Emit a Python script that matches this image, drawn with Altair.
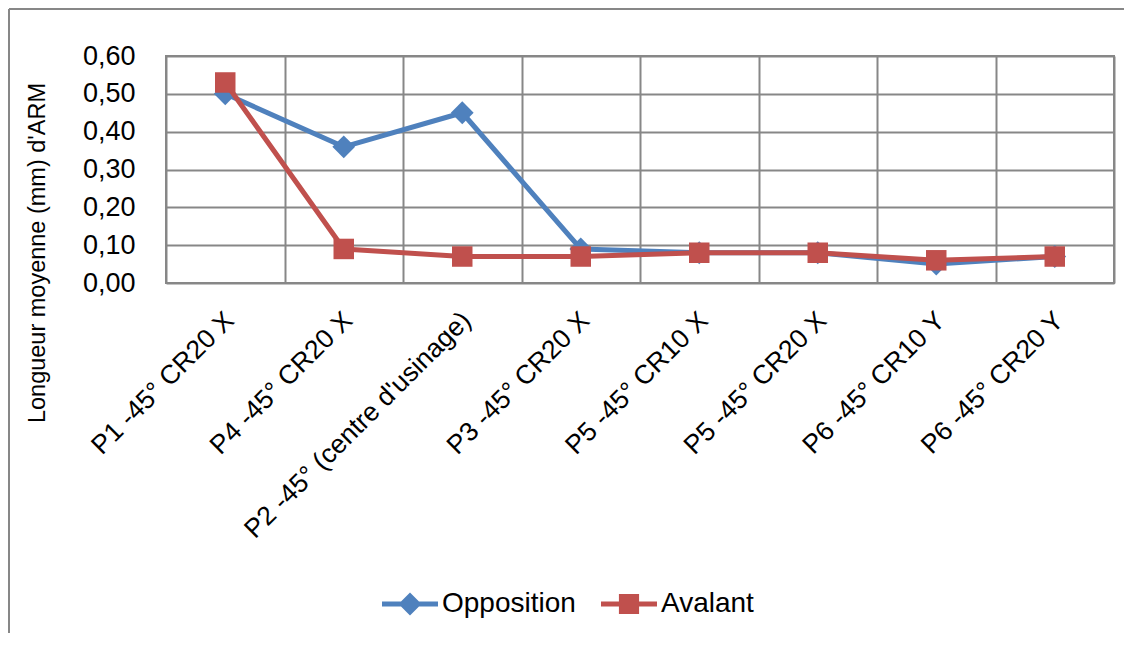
import altair as alt
import pandas as pd

categories = [
    "P1 -45° CR20 X",
    "P4 -45° CR20 X",
    "P2 -45° (centre d'usinage)",
    "P3 -45° CR20 X",
    "P5 -45° CR10 X",
    "P5 -45° CR20 X",
    "P6 -45° CR10 Y",
    "P6 -45° CR20 Y",
]
opposition = [0.50, 0.36, 0.45, 0.09, 0.08, 0.08, 0.05, 0.07]
avalant = [0.53, 0.09, 0.07, 0.07, 0.08, 0.08, 0.06, 0.07]
series_names = ["Opposition", "Avalant"]
series_colors = ["#4F81BD", "#C0504D"]
series_shapes = ["diamond", "square"]
y_ticks = [0, 0.1, 0.2, 0.3, 0.4, 0.5, 0.6]
y_title = "Longueur moyenne (mm) d'ARM"

rows = []
for name, vals in zip(series_names, [opposition, avalant]):
    for c, v in zip(categories, vals):
        rows.append({"cat": c, "val": v, "series": name})
df = pd.DataFrame(rows)

FONT = "Liberation Sans"
GRID = "#878787"

# legend symbols: line segment + marker (coordinates in [-1, 1])
legend_paths = [
    "M-1,-0.09L1,-0.09L1,0.09L-1,0.09Z M0,-0.41L0.41,0L0,0.41L-0.41,0Z",
    "M-1,-0.09L1,-0.09L1,0.09L-1,0.09Z M-0.36,-0.36L0.36,-0.36L0.36,0.36L-0.36,0.36Z",
]

x_enc = alt.X(
    "cat:N",
    sort=categories,
    scale=alt.Scale(type="band", paddingInner=0, paddingOuter=0),
    bandPosition=0.5,
    axis=alt.Axis(
        title=None,
        labelAngle=315,
        labelAlign="right",
        labelBaseline="middle",
        labelPadding=33,
        labelOffset=4,
        labelFont=FONT,
        labelFontSize=26.5,
        labelColor="black",
        labelLimit=1000,
        tickBand="extent",
        ticks=False,
        tickSize=0,
        domain=False,
        grid=True,
        gridColor=GRID,
        gridWidth=2,
    ),
)
y_enc = alt.Y(
    "val:Q",
    scale=alt.Scale(domain=[0, 0.6], nice=False, zero=True),
    axis=alt.Axis(
        values=y_ticks,
        labelExpr="replace(format(datum.value, '.2f'), '.', ',')",
        title=y_title,
        titleX=-129,
        titleY=196.5,
        titleAngle=270,
        titleAlign="center",
        titleBaseline="middle",
        titleFont=FONT,
        titleFontSize=23.5,
        titleFontWeight="normal",
        titleColor="black",
        labelFont=FONT,
        labelFontSize=27,
        labelColor="black",
        labelPadding=31,
        ticks=False,
        tickSize=0,
        domain=False,
        grid=True,
        gridColor=GRID,
        gridWidth=2,
    ),
)

layers = []
# outer frame (decorative)
frame = alt.Chart(alt.Data(values=[{"a": 1}]))
layers.append(frame.mark_rule(color=GRID, strokeWidth=2).encode(
    x=alt.value(-157), y=alt.value(-47), y2=alt.value(700)))
layers.append(frame.mark_rule(color=GRID, strokeWidth=2).encode(
    x=alt.value(-157), x2=alt.value(1200), y=alt.value(-47)))

base = alt.Chart(df)
sizes = {"diamond": 520, "square": 420}
for name, col, shp in zip(series_names, series_colors, series_shapes):
    sub = base.transform_filter(alt.datum.series == name)
    layers.append(sub.mark_line(color=col, strokeWidth=5, strokeJoin="round", strokeCap="round").encode(x=x_enc, y=y_enc))
    layers.append(sub.mark_point(shape=shp, filled=True, size=sizes[shp], color=col, opacity=1, strokeWidth=0).encode(x=x_enc, y=y_enc))

leg = alt.Legend(
    title=None,
    orient="none",
    legendX=216,
    legendY=520,
    direction="horizontal",
    symbolSize=3136,
    symbolStrokeWidth=0,
    symbolOpacity=1,
    labelFont=FONT,
    labelFontSize=28,
    labelColor="black",
    labelOffset=4,
    columnPadding=25,
    padding=0,
    labelLimit=500,
)
legend_layer = base.transform_filter("false").mark_point(filled=True, opacity=1).encode(
    color=alt.Color("series:N", scale=alt.Scale(domain=series_names, range=series_colors), legend=leg),
    shape=alt.Shape("series:N", scale=alt.Scale(domain=series_names, range=legend_paths), legend=leg),
)
layers.append(legend_layer)

chart = alt.layer(*layers).properties(
    width=948,
    height=227,
    padding={"left": 158, "top": 48, "right": 10, "bottom": 350},
    autosize=alt.AutoSizeParams(type="none"),
    background="white",
).configure_view(stroke=GRID, strokeWidth=2)

chart.save("out.html", embed_options={"renderer": "svg", "actions": False})
